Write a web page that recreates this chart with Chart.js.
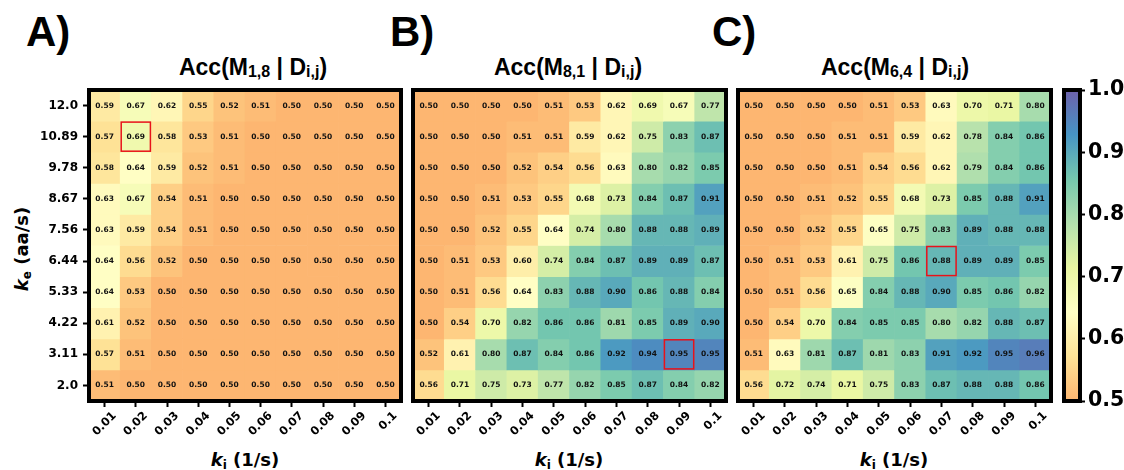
<!DOCTYPE html>
<html>
<head>
<meta charset="utf-8">
<script src="https://cdn.jsdelivr.net/npm/chart.js@4.4.0/dist/chart.umd.min.js"></script>
<style>
  body { margin: 0; width: 1124px; height: 470px; background: #fff; position: relative; overflow: hidden; font-family: "DejaVu Sans", sans-serif; }
  canvas { position: absolute; top: 0; }
  .tag { position: absolute; top: 11px; font-family: "Liberation Sans", Arial, sans-serif; font-weight: bold; font-size: 42px; line-height: 1; }
  .title { position: absolute; top: 56px; font-family: "Liberation Sans", Arial, sans-serif; font-weight: bold; font-size: 23px; line-height: 1; transform: translateX(-50%); white-space: nowrap; }
  .title sub { font-size: 16px; vertical-align: -2px; line-height: 0; }
  .xlab { position: absolute; top: 451px; font-weight: bold; font-size: 18px; line-height: 1; transform: translateX(-50%); white-space: nowrap; }
  .ylab { position: absolute; left: 22px; top: 249px; font-weight: bold; font-size: 18px; line-height: 1; transform: translate(-50%, -50%) rotate(-90deg); white-space: nowrap; }
  sub { line-height: 0; }
</style>
</head>
<body>
<div class="tag" style="left:26px">A)</div>
<div class="tag" style="left:390px">B)</div>
<div class="tag" style="left:712px">C)</div>

<div class="title" style="left:253px">Acc(M<sub>1,8</sub> | D<sub>i,j</sub>)</div>
<div class="title" style="left:568px">Acc(M<sub>8,1</sub> | D<sub>i,j</sub>)</div>
<div class="title" style="left:895px">Acc(M<sub>6,4</sub> | D<sub>i,j</sub>)</div>

<div class="ylab"><i>k</i><sub style="font-size:12px;vertical-align:-3px">e</sub> (aa/s)</div>
<div class="xlab" style="left:245px"><i>k</i><sub style="font-size:12px;vertical-align:-3px">i</sub> (1/s)</div>
<div class="xlab" style="left:569px"><i>k</i><sub style="font-size:12px;vertical-align:-3px">i</sub> (1/s)</div>
<div class="xlab" style="left:894px"><i>k</i><sub style="font-size:12px;vertical-align:-3px">i</sub> (1/s)</div>

<canvas id="chartA" width="410" height="470" style="left:0px"></canvas>
<canvas id="chartB" width="328" height="470" style="left:405px"></canvas>
<canvas id="chartC" width="328" height="470" style="left:730px"></canvas>
<canvas id="colorbar" width="66" height="470" style="left:1058px"></canvas>

<script>
// axis ticks
const kiTicks = ["0.01", "0.02", "0.03", "0.04", "0.05", "0.06", "0.07", "0.08", "0.09", "0.1"];
const keTicks = ["12.0", "10.89", "9.78", "8.67", "7.56", "6.44", "5.33", "4.22", "3.11", "2.0"]; // top -> bottom
const cbTicks = [0.5, 0.6, 0.7, 0.8, 0.9, 1.0];

// accuracy grids, rows top (ke=12.0) -> bottom (ke=2.0)
const accA = [
  [0.59, 0.67, 0.62, 0.55, 0.52, 0.51, 0.50, 0.50, 0.50, 0.50],
  [0.57, 0.69, 0.58, 0.53, 0.51, 0.50, 0.50, 0.50, 0.50, 0.50],
  [0.58, 0.64, 0.59, 0.52, 0.51, 0.50, 0.50, 0.50, 0.50, 0.50],
  [0.63, 0.67, 0.54, 0.51, 0.50, 0.50, 0.50, 0.50, 0.50, 0.50],
  [0.63, 0.59, 0.54, 0.51, 0.50, 0.50, 0.50, 0.50, 0.50, 0.50],
  [0.64, 0.56, 0.52, 0.50, 0.50, 0.50, 0.50, 0.50, 0.50, 0.50],
  [0.64, 0.53, 0.50, 0.50, 0.50, 0.50, 0.50, 0.50, 0.50, 0.50],
  [0.61, 0.52, 0.50, 0.50, 0.50, 0.50, 0.50, 0.50, 0.50, 0.50],
  [0.57, 0.51, 0.50, 0.50, 0.50, 0.50, 0.50, 0.50, 0.50, 0.50],
  [0.51, 0.50, 0.50, 0.50, 0.50, 0.50, 0.50, 0.50, 0.50, 0.50]
];
const accB = [
  [0.50, 0.50, 0.50, 0.50, 0.51, 0.53, 0.62, 0.69, 0.67, 0.77],
  [0.50, 0.50, 0.50, 0.51, 0.51, 0.59, 0.62, 0.75, 0.83, 0.87],
  [0.50, 0.50, 0.50, 0.52, 0.54, 0.56, 0.63, 0.80, 0.82, 0.85],
  [0.50, 0.50, 0.51, 0.53, 0.55, 0.68, 0.73, 0.84, 0.87, 0.91],
  [0.50, 0.50, 0.52, 0.55, 0.64, 0.74, 0.80, 0.88, 0.88, 0.89],
  [0.50, 0.51, 0.53, 0.60, 0.74, 0.84, 0.87, 0.89, 0.89, 0.87],
  [0.50, 0.51, 0.56, 0.64, 0.83, 0.88, 0.90, 0.86, 0.88, 0.84],
  [0.50, 0.54, 0.70, 0.82, 0.86, 0.86, 0.81, 0.85, 0.89, 0.90],
  [0.52, 0.61, 0.80, 0.87, 0.84, 0.86, 0.92, 0.94, 0.95, 0.95],
  [0.56, 0.71, 0.75, 0.73, 0.77, 0.82, 0.85, 0.87, 0.84, 0.82]
];
const accC = [
  [0.50, 0.50, 0.50, 0.50, 0.51, 0.53, 0.63, 0.70, 0.71, 0.80],
  [0.50, 0.50, 0.50, 0.51, 0.51, 0.59, 0.62, 0.78, 0.84, 0.86],
  [0.50, 0.50, 0.50, 0.51, 0.54, 0.56, 0.62, 0.79, 0.84, 0.86],
  [0.50, 0.50, 0.51, 0.52, 0.55, 0.68, 0.73, 0.85, 0.88, 0.91],
  [0.50, 0.50, 0.52, 0.55, 0.65, 0.75, 0.83, 0.89, 0.88, 0.88],
  [0.50, 0.51, 0.53, 0.61, 0.75, 0.86, 0.88, 0.89, 0.89, 0.85],
  [0.50, 0.51, 0.56, 0.65, 0.84, 0.88, 0.90, 0.85, 0.86, 0.82],
  [0.50, 0.54, 0.70, 0.84, 0.85, 0.85, 0.80, 0.82, 0.88, 0.87],
  [0.51, 0.63, 0.81, 0.87, 0.81, 0.83, 0.91, 0.92, 0.95, 0.96],
  [0.56, 0.72, 0.74, 0.71, 0.75, 0.83, 0.87, 0.88, 0.88, 0.86]
];
// highlighted cell per panel: [ki, ke]
const markA = ["0.02", "10.89"];
const markB = ["0.09", "3.11"];
const markC = ["0.07", "6.44"];

// colormap: upper part of Spectral (orange -> purple), slightly faded
const spectral = ["#fdae61", "#fee08b", "#ffffbf", "#e6f598", "#abdda4", "#66c2a5", "#3288bd", "#5e4fa2"];
const vmin = 0.5, vmax = 1.0, alpha = 0.9;

function hexRgb(h) {
  return [parseInt(h.slice(1, 3), 16), parseInt(h.slice(3, 5), 16), parseInt(h.slice(5, 7), 16)];
}
function fade(rgb) {
  return rgb.map(c => Math.round(c * alpha + 255 * (1 - alpha)));
}
function cmap(v) {
  let t = (v - vmin) / (vmax - vmin) * (spectral.length - 1);
  t = Math.max(0, Math.min(spectral.length - 1, t));
  const i = Math.min(Math.floor(t), spectral.length - 2), f = t - i;
  const a = hexRgb(spectral[i]), b = hexRgb(spectral[i + 1]);
  const c = fade(a.map((x, k) => x + (b[k] - x) * f));
  return `rgb(${c[0]},${c[1]},${c[2]})`;
}

Chart.defaults.font.family = "'DejaVu Sans', sans-serif";
Chart.defaults.color = "#000";

// cell labels, red marker and thick frame
const cellPlugin = {
  id: "cells",
  afterDatasetsDraw(chart, args, opts) {
    const { ctx, chartArea } = chart;
    ctx.save();
    if (opts.values) {
      ctx.font = "bold 7.5px 'DejaVu Sans'";
      ctx.textAlign = "center";
      ctx.textBaseline = "middle";
      ctx.fillStyle = "#111";
      opts.values.forEach((row, r) => {
        chart.getDatasetMeta(r).data.forEach((bar, c) => {
          ctx.fillText(row[c].toFixed(2), bar.x, (bar.y + bar.base) / 2);
        });
      });
    }
    if (opts.mark) {
      const r = keTicks.indexOf(opts.mark[1]);
      const c = kiTicks.indexOf(opts.mark[0]);
      const bar = chart.getDatasetMeta(r).data[c];
      const top = Math.min(bar.y, bar.base), h = Math.abs(bar.base - bar.y);
      ctx.strokeStyle = "#e8121a";
      ctx.lineWidth = 1.5;
      ctx.strokeRect(bar.x - bar.width / 2 + 1, top + 1, bar.width - 2, h - 2);
    }
    ctx.strokeStyle = "#000";
    ctx.lineWidth = 4;
    ctx.strokeRect(chartArea.left, chartArea.top, chartArea.width, chartArea.height);
    ctx.restore();
  }
};

function heatmap(id, values, mark, showY, pad) {
  const datasets = values.map((row, r) => ({
    data: kiTicks.map(() => [r - 0.5, r + 0.5]),
    backgroundColor: row.map(cmap),
    borderWidth: 0,
    barPercentage: 1,
    categoryPercentage: 1,
    grouped: false
  }));
  return new Chart(document.getElementById(id), {
    type: "bar",
    data: { labels: kiTicks, datasets },
    options: {
      responsive: false,
      animation: false,
      devicePixelRatio: 1,
      events: [],
      layout: { autoPadding: false, padding: pad },
      plugins: { legend: { display: false }, tooltip: { enabled: false }, cells: { values, mark } },
      scales: {
        x: {
          type: "category",
          offset: true,
          border: { display: false },
          grid: { display: true, drawOnChartArea: false, offset: false, tickLength: 6, tickWidth: 2, color: "#000" },
          ticks: { autoSkip: false, minRotation: 45, maxRotation: 45, labelOffset: 10, padding: 2, font: { size: 11.5, weight: "bold" } },
          afterFit: s => { s.height = 60; s.paddingLeft = 0; s.paddingRight = 0; }
        },
        y: {
          type: "linear",
          display: showY,
          min: -0.5,
          max: 9.5,
          reverse: true,
          border: { display: false },
          grid: { display: true, drawOnChartArea: false, tickLength: 6, tickWidth: 2, color: "#000" },
          ticks: { padding: 5, font: { size: 12, weight: "bold" }, callback: v => keTicks[v] },
          afterBuildTicks: s => { s.ticks = keTicks.map((_, i) => ({ value: i })); },
          afterFit: s => { if (showY) s.width = 89; }
        }
      }
    },
    plugins: [cellPlugin]
  });
}

heatmap("chartA", accA, markA, true, { top: 90, bottom: 9, left: 0, right: 9 });
heatmap("chartB", accB, markB, false, { top: 90, bottom: 9, left: 8, right: 7 });
heatmap("chartC", accC, markC, false, { top: 90, bottom: 9, left: 8, right: 7 });

// colorbar
new Chart(document.getElementById("colorbar"), {
  type: "bar",
  data: {
    labels: ["acc"],
    datasets: [{
      data: [[vmin, vmax]],
      borderWidth: 0,
      barPercentage: 1,
      categoryPercentage: 1,
      backgroundColor: ctx => {
        const area = ctx.chart.chartArea;
        if (!area) return cmap(vmin);
        const g = ctx.chart.ctx.createLinearGradient(0, area.bottom, 0, area.top);
        spectral.forEach((h, i) => {
          const c = fade(hexRgb(h));
          g.addColorStop(i / (spectral.length - 1), `rgb(${c[0]},${c[1]},${c[2]})`);
        });
        return g;
      }
    }]
  },
  options: {
    responsive: false,
    animation: false,
    devicePixelRatio: 1,
    events: [],
    layout: { autoPadding: false, padding: { top: 90, bottom: 69, left: 6, right: 0 } },
    plugins: { legend: { display: false }, tooltip: { enabled: false }, cells: {} },
    scales: {
      x: { display: false, offset: true },
      y: {
        type: "linear",
        position: "right",
        min: vmin,
        max: vmax,
        border: { display: false },
        grid: { display: true, drawOnChartArea: false, tickLength: 5, tickWidth: 2, color: "#000" },
        ticks: { padding: 3, font: { size: 20.5, weight: "bold" }, callback: v => v.toFixed(1) },
        afterBuildTicks: s => { s.ticks = cbTicks.map(v => ({ value: v })); },
        afterFit: s => { s.width = 44; }
      }
    }
  },
  plugins: [cellPlugin]
});
</script>
</body>
</html>
